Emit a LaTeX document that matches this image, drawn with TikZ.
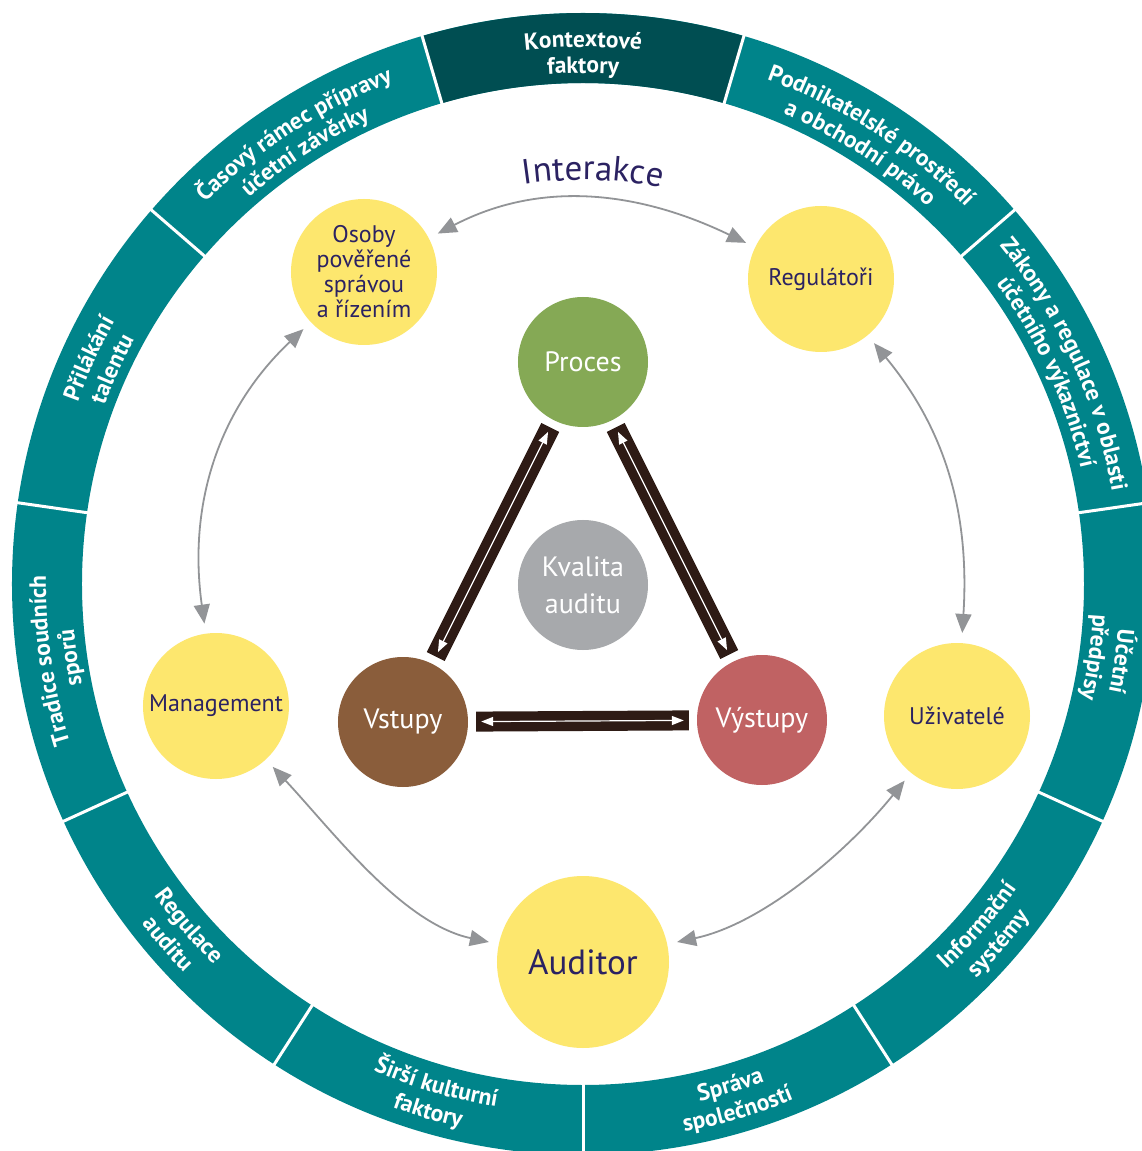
\documentclass[tikz,border=0pt]{standalone}
\usepackage{fontspec}
\setmainfont{PT Sans}
\usetikzlibrary{arrows.meta,decorations.text}

\definecolor{ringteal}{RGB}{0,132,138}
\definecolor{ringdark}{RGB}{0,78,82}
\definecolor{sunyellow}{RGB}{253,231,110}
\definecolor{inknavy}{RGB}{43,34,98}
\definecolor{procgreen}{RGB}{133,169,85}
\definecolor{qualgrey}{RGB}{167,169,172}
\definecolor{inbrown}{RGB}{138,93,59}
\definecolor{outred}{RGB}{192,98,99}
\definecolor{barbrown}{RGB}{46,27,21}
\definecolor{linkgrey}{RGB}{146,148,151}

\newcommand\ringfont{\fontsize{23.5}{26}\selectfont\bfseries}
\newcommand\actorfont{\fontsize{24}{25}\selectfont}
\newcommand\corefont{\fontsize{28}{37}\selectfont}

% curved label, clockwise (letters face outwards)
\newcommand\ringcw[3]{%
  \path[decorate,decoration={text along path,text align=center,text color=white,
    text={|\ringfont|#3}}]
    ({#1+30}:#2) arc[start angle={#1+30},end angle={#1-30},radius=#2];}
% curved label, counter-clockwise (letters face inwards)
\newcommand\ringccw[3]{%
  \path[decorate,decoration={text along path,text align=center,text color=white,
    text={|\ringfont|#3}}]
    ({#1-30}:#2) arc[start angle={#1-30},end angle={#1+30},radius=#2];}

\tikzset{
  actor/.style={circle,fill=sunyellow,minimum size=146pt,inner sep=0pt,
    text=inknavy,align=center,font=\actorfont},
  core/.style={circle,minimum size=130pt,inner sep=0pt,text=white,
    align=center,font=\corefont},
  link/.style={draw=linkgrey,line width=1.8pt,
    {Triangle[length=19pt,width=16pt]}-{Triangle[length=19pt,width=16pt]},
    shorten >=10pt,shorten <=10pt},
  bar/.style={draw=barbrown,line width=20pt,shorten >=8pt,shorten <=8pt},
  barflow/.style={draw=white,line width=1.2pt,
    {Triangle[length=12pt,width=9pt]}-{Triangle[length=12pt,width=9pt]},
    shorten >=13pt,shorten <=13pt}
}

\begin{document}
\begin{tikzpicture}[x=1pt,y=1pt]
\fill[white] (-583,-567) rectangle (559,584);
\useasboundingbox (-583,-567) rectangle (559,584);

% outer ring of context factors
\fill[ringteal,even odd rule] (0,0) circle[radius=571] (0,0) circle[radius=501];
\fill[ringdark] (73.64:501) arc[start angle=73.64,end angle=106.36,radius=501]
  -- (106.36:571) arc[start angle=106.36,end angle=73.64,radius=571] -- cycle;
\foreach \k in {0,...,10}
  \draw[white,line width=3pt] ({106.3636-32.7273*\k}:496) -- ({106.3636-32.7273*\k}:580);

% ring labels
\ringcw{90}{537}{Kontextové}
\ringcw{90}{511}{faktory}
\ringcw{57.27}{537}{Podnikatelské prostředí}
\ringcw{57.27}{511}{a obchodní právo}
\ringcw{24.55}{537}{Zákony a regulace v oblasti}
\ringcw{24.55}{511}{účetního výkaznictví}
\ringcw{-8.18}{537}{Účetní}
\ringcw{-8.18}{511}{předpisy}
\ringccw{-40.91}{530}{Informační}
\ringccw{-40.91}{557}{systémy}
\ringccw{-73.64}{530}{Správa}
\ringccw{-73.64}{557}{společností}
\ringccw{-106.36}{530}{Širší kulturní}
\ringccw{-106.36}{557}{faktory}
\ringccw{-139.09}{530}{Regulace}
\ringccw{-139.09}{557}{auditu}
\ringcw{188.18}{537}{Tradice soudních}
\ringcw{188.18}{511}{sporů}
\ringcw{155.45}{537}{Přilákání}
\ringcw{155.45}{511}{talentu}
\ringcw{122.73}{537}{Časový rámec přípravy}
\ringcw{122.73}{511}{účetní závěrky}

% heading
\path[decorate,decoration={text along path,text align=center,text color=inknavy,
  text={|\fontsize{35}{40}\selectfont|Interakce}}]
  (118.6:404) arc[start angle=118.6,end angle=58.6,radius=404];

% actors
\node[actor] (osoby) at (-219,312) {Osoby\\pověřené\\správou\\a řízením};
\node[actor] (reg) at (238,305) {Regulátoři};
\node[actor] (mgmt) at (-367,-122) {Management};
\node[actor] (uziv) at (374,-132) {Uživatelé};
\node[actor,minimum size=172pt,font=\fontsize{35}{40}\selectfont] (auditor) at (0,-378) {Auditor};

% core of audit quality
\node[core,fill=procgreen] (proces) at (0,222) {Proces};
\node[core,fill=qualgrey] (kvalita) at (0,-1) {Kvalita\\auditu};
\node[core,fill=inbrown] (vstupy) at (-180,-138) {Vstupy};
\node[core,fill=outred] (vystupy) at (179,-136) {Výstupy};

% interactions between actors
\draw[link] (osoby) to[out=27.8,in=154.4] (reg);
\draw[link] (osoby) to[out=223.5,in=98] (mgmt);
\draw[link] (reg) to[out=-50.7,in=86.6] (uziv);
\draw[link] (mgmt) to[out=-47,in=168,looseness=0.85] (auditor);
\draw[link] (uziv) to[out=231,in=12,looseness=0.85] (auditor);

% links of the core triangle
\draw[bar] (proces) -- (vstupy);
\draw[barflow] (proces) -- (vstupy);
\draw[bar] (proces) -- (vystupy);
\draw[barflow] (proces) -- (vystupy);
\draw[bar] (vstupy) -- (vystupy);
\draw[barflow] (vstupy) -- (vystupy);
\end{tikzpicture}
\end{document}
